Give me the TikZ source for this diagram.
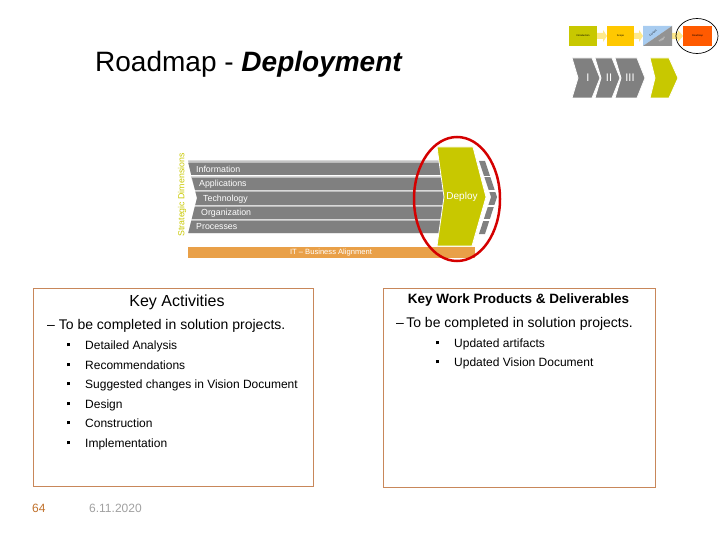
\documentclass[tikz,border=0pt]{standalone}
\usepackage{fontspec}
\setmainfont{Liberation Sans}
\usetikzlibrary{shapes.geometric}
\definecolor{olive}{HTML}{C8C800}
\definecolor{dgray}{HTML}{808080}
\definecolor{lgray}{HTML}{C4C4C4}
\definecolor{obar}{HTML}{E9A048}
\definecolor{boxline}{HTML}{C8875A}
\definecolor{redring}{HTML}{D40000}
\definecolor{numor}{HTML}{C0702A}
\definecolor{dategray}{HTML}{A0A0A0}
\definecolor{gold}{HTML}{FFC800}
\definecolor{redor}{HTML}{FF5A00}
\definecolor{lblue}{HTML}{A8CCF0}
\definecolor{arrowy}{HTML}{FFE98A}
\newcommand{\sqbullet}{\raisebox{2.6pt}{\rule{3.2pt}{3.2pt}}}
\begin{document}
\begin{tikzpicture}[x=1pt,y=-1pt,
  bartext/.style={anchor=west,text=white,font=\fontsize{8.8}{10}\selectfont,inner sep=0pt},
  bodytext/.style={anchor=base west,inner sep=0pt,font=\fontsize{12}{14}\selectfont},
  bulletmark/.style={anchor=base west,inner sep=0pt,font=\fontsize{12}{14}\selectfont},
  dashtext/.style={anchor=base west,inner sep=0pt,font=\fontsize{14}{16}\selectfont},
  infobox/.style={draw=boxline,line width=0.8pt},
  minibox/.style={inner sep=0pt,font=\fontsize{2.5}{3}\selectfont}]
\useasboundingbox (0,0) rectangle (720,540);

% title
\node[anchor=base west,inner sep=0pt,font=\fontsize{28}{32}\selectfont] (title) at (95,72) {Roadmap - \textbf{\textit{Deployment}}};

% mini flow top right
\fill[arrowy] (597,33) -- (603,33) -- (603,30) -- (607,36) -- (603,42) -- (603,39) -- (597,39) -- cycle;
\fill[arrowy] (634,33) -- (639,33) -- (639,30) -- (643,36) -- (639,42) -- (639,39) -- (634,39) -- cycle;
\fill[arrowy] (672,33) -- (678,33) -- (678,30) -- (683,36) -- (678,42) -- (678,39) -- (672,39) -- cycle;
\fill[olive] (569,26) rectangle (597,46);
\node[minibox] (m1) at (583,36) {Introduction};
\fill[gold] (607,26) rectangle (634,46);
\node[minibox] (m2) at (620.5,36) {Scope};
\fill[lblue] (643,26) -- (672,26) -- (643,46) -- cycle;
\fill[dgray!85] (672,26) -- (672,46) -- (643,46) -- cycle;
\node[minibox,rotate=35] (m3a) at (653,33) {Current};
\node[minibox,rotate=35,text=white] (m3b) at (662,40) {Target};
\fill[redor] (683,26) rectangle (712,46);
\node[minibox] (m4) at (697.5,36) {Roadmap};
\draw[black,line width=0.7pt] (697,36) ellipse [x radius=21, y radius=17.5];

% phase chevrons
\begin{scope}[draw=white,line width=0.8pt]
\filldraw[fill=dgray] (572,58) -- (592,58) -- (600,78) -- (592,98) -- (572,98) -- (578,78) -- cycle;
\filldraw[fill=dgray] (595,58) -- (612,58) -- (620,78) -- (612,98) -- (595,98) -- (601,78) -- cycle;
\filldraw[fill=dgray] (615,58) -- (637,58) -- (645,78) -- (637,98) -- (615,98) -- (621,78) -- cycle;
\filldraw[fill=olive] (650,58) -- (669,58) -- (678,78) -- (669,98) -- (650,98) -- (655,78) -- cycle;
\end{scope}
\node[text=white,font=\fontsize{11}{12}\selectfont] (p1) at (588,78) {I};
\node[text=white,font=\fontsize{11}{12}\selectfont] (p2) at (609,78) {II};
\node[text=white,font=\fontsize{11}{12}\selectfont] (p3) at (630,78) {III};

% strategic dimensions label
\node[rotate=90,text=olive,font=\fontsize{8.8}{10}\selectfont,inner sep=0pt] (sd) at (182,195) {Strategic Dimensions};

% bars: light top strip + dark bar
\fill[lgray] (188,160.5) -- (445,160.5) -- (445,175) -- (191.25,175) -- cycle;
\fill[dgray] (188.25,163) -- (445,163) -- (445,175) -- (191.25,175) -- cycle;
\fill[lgray] (191,176.5) -- (445,176.5) -- (445,190) -- (195,190) -- cycle;
\fill[dgray] (192,178) -- (445,178) -- (445,190) -- (195,190) -- cycle;
\fill[lgray] (195,190.5) -- (445,190.5) -- (445,205) -- (195.25,205) -- (197,198) -- cycle;
\fill[dgray] (195.5,192) -- (445,192) -- (445,205) -- (195.25,205) -- (197,198) -- cycle;
\fill[lgray] (195,205.5) -- (445,205.5) -- (445,219) -- (191.75,219) -- cycle;
\fill[dgray] (194.75,207) -- (445,207) -- (445,219) -- (191.75,219) -- cycle;
\fill[lgray] (191.5,219.5) -- (445,219.5) -- (445,233) -- (188.25,233) -- cycle;
\fill[dgray] (191.25,221) -- (445,221) -- (445,233) -- (188.25,233) -- cycle;

\node[bartext] (b1) at (196,169.5) {Information};
\node[bartext] (b2) at (199,184) {Applications};
\node[bartext] (b3) at (203,199) {Technology};
\node[bartext] (b4) at (201,213) {Organization};
\node[bartext] (b5) at (196,227) {Processes};

% stubs right of deploy
\fill[dgray] (479,161) -- (485,161) -- (497,197) -- (485,234) -- (479,234) -- (491,197) -- cycle;
\begin{scope}[white,line width=1.6pt]
\draw (476,176.5) -- (500,176.5);
\draw (476,191) -- (500,191);
\draw (476,206) -- (500,206);
\draw (476,220) -- (500,220);
\end{scope}

% orange alignment bar
\fill[obar] (188,247) rectangle (475,258);
\node[text=white,font=\fontsize{7.6}{9}\selectfont,inner sep=0pt] (it) at (331,252.5) {IT -- Business Alignment};

% deploy chevron
\filldraw[fill=olive,draw=white,line width=0.8pt] (437,147) -- (473,147) -- (486,197) -- (472,246) -- (437,246) -- (444,197) -- cycle;
\node[text=white,font=\fontsize{10}{12}\selectfont,inner sep=0pt] (dep) at (462,197) {Deploy};

% red ring
\draw[redring,line width=2.5pt] (457,199) ellipse [x radius=43, y radius=62];

% left box
\draw[infobox] (33,288) rectangle (313,486);
\node[anchor=base,inner sep=0pt,font=\fontsize{16}{18}\selectfont] (ka) at (177,306) {Key Activities};
\node[dashtext] (kad) at (47,329) {-- To be completed in solution projects.};
\foreach \y/\t [count=\i] in {349/Detailed Analysis,369/Recommendations,388/Suggested changes in Vision Document,408/Design,427/Construction,447/Implementation}{
  \node[bulletmark] (kb\i) at (67,\y) {\sqbullet};
  \node[bodytext] (kt\i) at (85,\y) {\t};
}

% right box
\draw[infobox] (383,288) rectangle (655,487);
\node[anchor=base,inner sep=0pt,font=\bfseries\fontsize{13.5}{16}\selectfont] (kw) at (518.5,303) {Key Work Products \& Deliverables};
\node[dashtext] (kwd) at (396,327) {--\,To be completed in solution projects.};
\node[bulletmark] (wb1) at (436,347) {\sqbullet};
\node[bodytext] (wt1) at (454,347) {Updated artifacts};
\node[bulletmark] (wb2) at (436,366) {\sqbullet};
\node[bodytext] (wt2) at (454,366) {Updated Vision Document};

% footer
\node[anchor=base west,inner sep=0pt,text=numor,font=\fontsize{12}{14}\selectfont] (pg) at (32,512) {64};
\node[anchor=base west,inner sep=0pt,text=dategray,font=\fontsize{12}{14}\selectfont] (dt) at (89,512) {6.11.2020};
\end{tikzpicture}
\end{document}
